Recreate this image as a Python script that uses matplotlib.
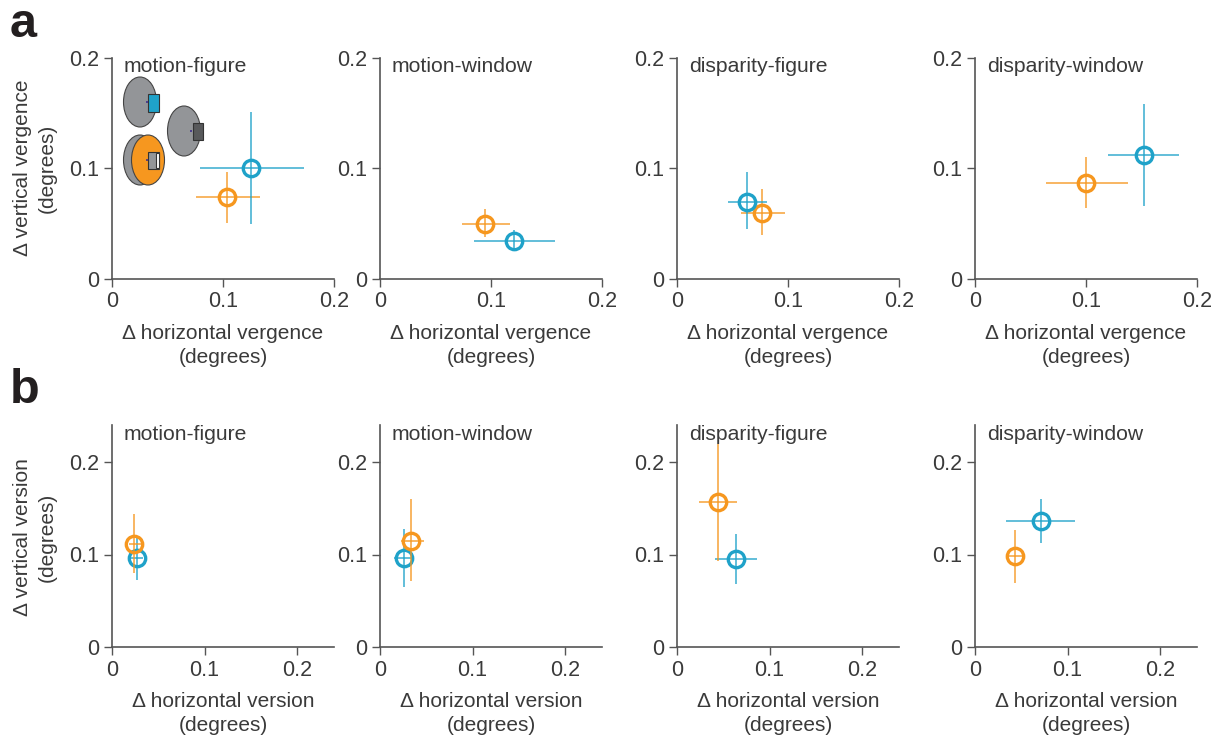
import matplotlib
matplotlib.use('Agg')
import matplotlib.pyplot as plt
from matplotlib.patches import Ellipse, Rectangle

plt.rcParams['font.family'] = ['Liberation Sans', 'DejaVu Sans']

W, H = 1218, 737
BLUE = '#1fa2c9'
ORANGE = '#f6971f'
AXIS = '#555555'
TEXT = '#3a3a3a'

conditions = ['motion-figure', 'motion-window', 'disparity-figure', 'disparity-window']

# --- VERGENCE (row a), each list is one value per panel ---
verg_blue_x = [0.125, 0.121, 0.063, 0.152]
verg_blue_y = [0.100, 0.034, 0.070, 0.112]
verg_blue_x_lo = [0.079, 0.085, 0.046, 0.120]
verg_blue_x_hi = [0.173, 0.158, 0.081, 0.184]
verg_blue_y_lo = [0.050, 0.025, 0.045, 0.066]
verg_blue_y_hi = [0.151, 0.044, 0.097, 0.158]

verg_orange_x = [0.104, 0.095, 0.077, 0.100]
verg_orange_y = [0.074, 0.050, 0.060, 0.087]
verg_orange_x_lo = [0.076, 0.074, 0.058, 0.064]
verg_orange_x_hi = [0.133, 0.117, 0.097, 0.138]
verg_orange_y_lo = [0.051, 0.038, 0.040, 0.064]
verg_orange_y_hi = [0.097, 0.063, 0.081, 0.110]

# --- VERSION (row b) ---
vers_blue_x = [0.0265, 0.026, 0.064, 0.071]
vers_blue_y = [0.096, 0.096, 0.095, 0.136]
vers_blue_x_lo = [0.020, 0.015, 0.041, 0.033]
vers_blue_x_hi = [0.033, 0.037, 0.087, 0.108]
vers_blue_y_lo = [0.072, 0.065, 0.068, 0.112]
vers_blue_y_hi = [0.118, 0.128, 0.122, 0.160]

vers_orange_x = [0.024, 0.034, 0.044, 0.043]
vers_orange_y = [0.111, 0.115, 0.157, 0.098]
vers_orange_x_lo = [0.018, 0.023, 0.024, 0.034]
vers_orange_x_hi = [0.031, 0.048, 0.065, 0.053]
vers_orange_y_lo = [0.080, 0.071, 0.093, 0.069]
vers_orange_y_hi = [0.144, 0.160, 0.220, 0.126]

ticks_a = [0, 0.1, 0.2]
ticks_b = [0, 0.1, 0.2]
tick_labels = ['0', '0.1', '0.2']

panel_left = [112, 380, 677, 975]
panel_w = 222


def make_axes(left, top, bottom):
    return fig.add_axes([left / W, 1 - bottom / H, panel_w / W, (bottom - top) / H])


def style_axes(ax, lim, ticks):
    ax.set_xlim(0, lim)
    ax.set_ylim(0, lim)
    ax.set_xticks(ticks, tick_labels)
    ax.set_yticks(ticks, tick_labels)
    ax.spines['top'].set_visible(False)
    ax.spines['right'].set_visible(False)
    ax.spines['left'].set_color(AXIS)
    ax.spines['bottom'].set_color(AXIS)
    ax.spines['left'].set_linewidth(1.2)
    ax.spines['bottom'].set_linewidth(1.2)
    ax.tick_params(length=6, width=1.0, color=AXIS, labelsize=15.5, labelcolor=TEXT, pad=3)
    ax.patch.set_alpha(0)


def draw_point(ax, x, y, x_lo, x_hi, y_lo, y_hi, color, z):
    ax.plot([x_lo, x_hi], [y, y], color=color, lw=1.4, alpha=0.7, zorder=z, clip_on=False, solid_capstyle='butt')
    ax.plot([x, x], [y_lo, y_hi], color=color, lw=1.4, alpha=0.7, zorder=z, clip_on=False, solid_capstyle='butt')
    ax.plot([x], [y], 'o', ms=11.8, mfc='none', mec=color, mew=2.4, zorder=z + 1, clip_on=False)


fig = plt.figure(figsize=(W / 100, H / 100), dpi=100)

for i, left in enumerate(panel_left):
    # row a
    ax = make_axes(left, 58, 279)
    style_axes(ax, 0.2, ticks_a)
    draw_point(ax, verg_orange_x[i], verg_orange_y[i], verg_orange_x_lo[i], verg_orange_x_hi[i],
               verg_orange_y_lo[i], verg_orange_y_hi[i], ORANGE, 3)
    draw_point(ax, verg_blue_x[i], verg_blue_y[i], verg_blue_x_lo[i], verg_blue_x_hi[i],
               verg_blue_y_lo[i], verg_blue_y_hi[i], BLUE, 5)
    ax.set_xlabel('Δ horizontal vergence\n(degrees)', fontsize=15, color=TEXT, labelpad=8, linespacing=1.36)
    fig.text((left + 12) / W, 1 - 66 / H, conditions[i], fontsize=15.2, color=TEXT, va='center', ha='left')

    # row b
    ax = make_axes(left, 425, 647)
    style_axes(ax, 0.24, ticks_b)
    draw_point(ax, vers_blue_x[i], vers_blue_y[i], vers_blue_x_lo[i], vers_blue_x_hi[i],
               vers_blue_y_lo[i], vers_blue_y_hi[i], BLUE, 3)
    draw_point(ax, vers_orange_x[i], vers_orange_y[i], vers_orange_x_lo[i], vers_orange_x_hi[i],
               vers_orange_y_lo[i], vers_orange_y_hi[i], ORANGE, 5)
    ax.set_xlabel('Δ horizontal version\n(degrees)', fontsize=15, color=TEXT, labelpad=8, linespacing=1.36)
    fig.text((left + 12) / W, 1 - 434 / H, conditions[i], fontsize=15.2, color=TEXT, va='center', ha='left')

fig.text(35 / W, 1 - 168 / H, 'Δ vertical vergence\n(degrees)', fontsize=15, color=TEXT, rotation=90,
         ha='center', va='center', linespacing=1.36)
fig.text(35 / W, 1 - 537 / H, 'Δ vertical version\n(degrees)', fontsize=15, color=TEXT, rotation=90,
         ha='center', va='center', linespacing=1.36)

fig.text(10 / W, 1 - 37 / H, 'a', fontsize=35, fontweight='bold', color='#231f20', ha='left', va='baseline')
fig.text(10 / W, 1 - 403 / H, 'b', fontsize=35, fontweight='bold', color='#231f20', ha='left', va='baseline')


# --- little stimulus icons in the first panel, in pixel positions ---
def px(x, y):
    return x / W, 1 - y / H


def disc(x, y, color):
    fig.add_artist(Ellipse(px(x, y), 33 / W, 50 / H, transform=fig.transFigure, fc=color, ec='#444444', lw=0.8, zorder=6))


def block(x0, y0, x1, y1, color):
    fig.add_artist(Rectangle(px(x0, y1), (x1 - x0) / W, (y1 - y0) / H, transform=fig.transFigure,
                             fc=color, ec='#333333', lw=0.8, zorder=7))


def dot(x, y):
    fig.add_artist(Ellipse(px(x, y), 2 / W, 2 / H, transform=fig.transFigure, fc='#3b2a8c', ec='none', zorder=8))


disc(140, 102, '#939598')
block(148, 94, 159, 112, BLUE)
dot(147, 102)

disc(184, 131, '#939598')
block(193, 123, 203, 140, '#58595b')
dot(191, 131)

disc(140, 160, '#939598')
disc(148, 160, ORANGE)
block(148, 152, 159, 169, '#939598')
block(156, 153, 159, 168, 'white')
dot(147, 160)

fig.savefig('out.png', dpi=100)
